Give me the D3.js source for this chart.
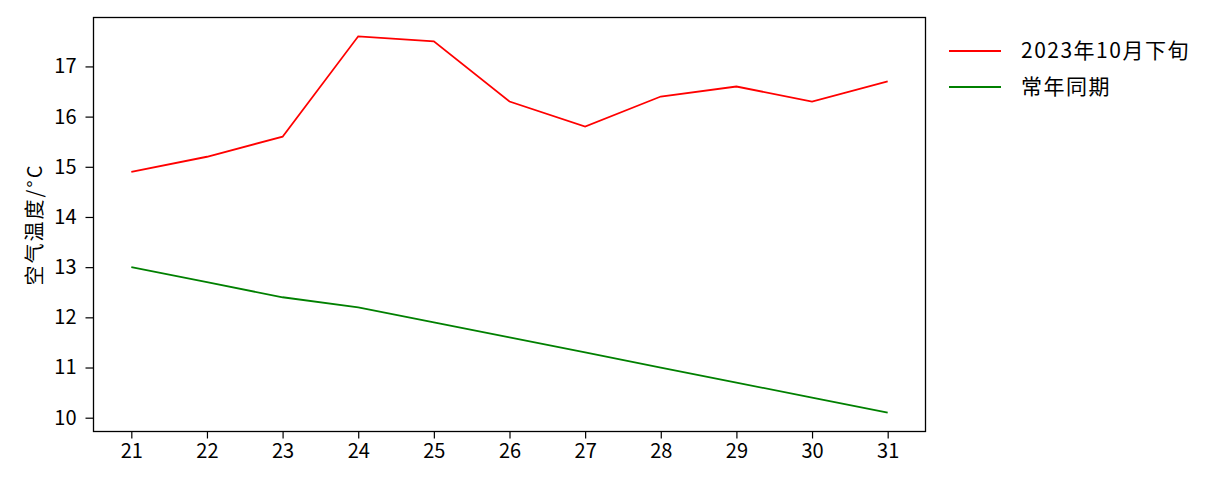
<!DOCTYPE html>
<html><head><meta charset="utf-8">
<script src="https://cdn.jsdelivr.net/npm/d3@7"></script>
<style>body{margin:0;background:#fff}svg{display:block}text{font-family:"Noto Sans CJK SC","Liberation Sans",sans-serif}</style>
</head><body>
<svg id="c" width="1222" height="487"></svg>
<script>
const days = [21,22,23,24,25,26,27,28,29,30,31];
const temp2023 = [14.9,15.2,15.6,17.6,17.5,16.3,15.8,16.4,16.6,16.3,16.7];
const tempNormal = [13.0,12.7,12.4,12.2,11.9,11.6,11.3,11.0,10.7,10.4,10.1];
const yTicks = [10,11,12,13,14,15,16,17];
const seriesNames = ["2023年10月下旬","常年同期"];
const seriesColors = ["#ff0000","#008000"];

const svg = d3.select("#c");
const L=93.5, R=925.5, T=17.5, B=431.5;
const x = d3.scaleLinear().domain([20.5,31.5]).range([L,R]);
const y = d3.scaleLinear().domain([9.725,17.975]).range([B,T]);

const fs = "20px";
const gx = svg.append("g").attr("transform",`translate(0,${B})`)
  .call(d3.axisBottom(x).tickValues(days).tickFormat(d3.format("d")).tickSize(7).tickPadding(5));
const gy = svg.append("g").attr("transform",`translate(${L},0)`)
  .call(d3.axisLeft(y).tickValues(yTicks).tickFormat(d3.format("d")).tickSize(8).tickPadding(9));
[gx,gy].forEach(g=>{
  g.select(".domain").remove();
  g.selectAll("line").attr("stroke","#000").attr("stroke-width",1.2);
  g.selectAll("text").attr("font-size",fs).attr("fill","#000");
});
svg.append("rect").attr("x",L).attr("y",T).attr("width",R-L).attr("height",B-T)
  .attr("fill","none").attr("stroke","#000").attr("stroke-width",1.3);

const line = d3.line().x((d,i)=>x(days[i])).y(d=>y(d));
[temp2023,tempNormal].forEach((s,k)=>{
  svg.append("path").datum(s).attr("d",line).attr("fill","none")
    .attr("stroke",seriesColors[k]).attr("stroke-width",1.8);
});

svg.append("text").attr("transform",`translate(35,${(T+B)/2}) rotate(-90)`)
  .attr("text-anchor","middle").attr("dy","0.35em").attr("font-size","20px")
  .attr("letter-spacing","2px").text("空气温度/°C");

const lg = svg.append("g");
seriesNames.forEach((n,i)=>{
  const yy = 51 + i*36;
  lg.append("line").attr("x1",949).attr("x2",1001).attr("y1",yy).attr("y2",yy)
    .attr("stroke",seriesColors[i]).attr("stroke-width",1.8);
  lg.append("text").attr("x",1021).attr("y",yy).attr("dy","0.35em")
    .attr("font-size","21px").attr("letter-spacing","1.5px").text(n);
});
</script>
</body></html>
